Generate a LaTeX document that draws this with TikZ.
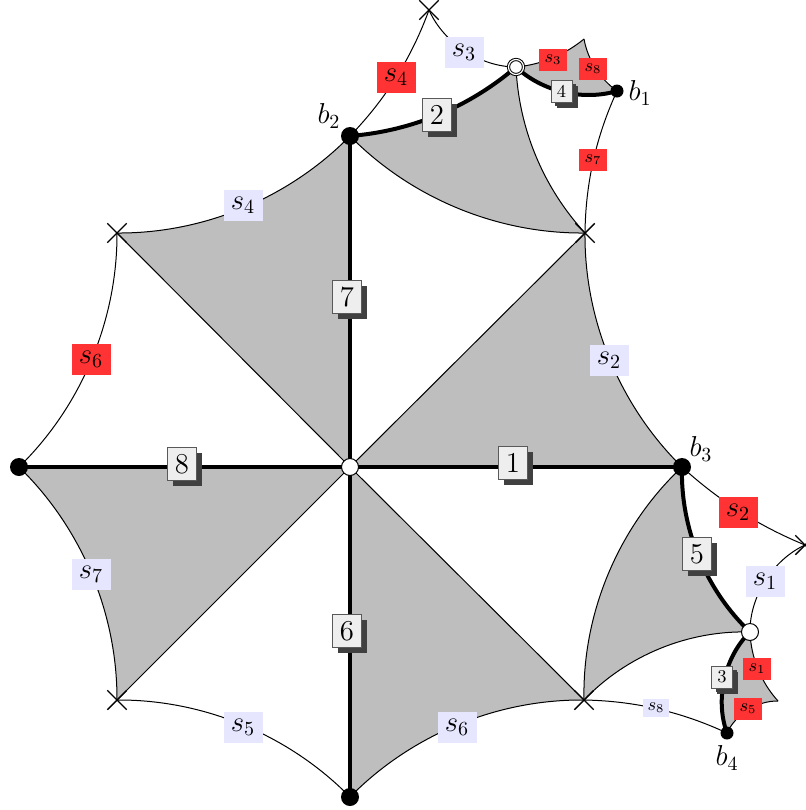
\documentclass[tikz,border=0pt]{standalone}
\usetikzlibrary{positioning,shapes.misc,shadows}
\definecolor{regionfill}{RGB}{190,190,190}
\definecolor{sidered}{RGB}{255,51,51}
\definecolor{sideblue}{RGB}{230,230,255}
\definecolor{numfill}{RGB}{238,238,238}
\definecolor{numshadow}{RGB}{64,64,64}

\begin{document}
\begin{tikzpicture}[
  x=0.5pt, y=-0.5pt,
  region/.style={fill=regionfill},
  side/.style={line width=0.5pt},
  cut/.style={line width=2pt},
  bl/.style={bend left=#1, looseness=0.88},
  br/.style={bend right=#1, looseness=0.88},
  bigpt/.style={circle, fill=black, inner sep=0pt, minimum size=9pt},
  smallpt/.style={circle, fill=black, inner sep=0pt, minimum size=6.5pt},
  whitept/.style={circle, draw, fill=white, line width=0.5pt, inner sep=0pt, minimum size=8.5pt},
  cusp/.style={cross out, draw, line width=0.7pt, inner sep=0pt, minimum size=9pt},
  numbox/.style={
    draw=black!65, fill=numfill, line width=0.4pt, inner sep=0pt,
    minimum width=14.5pt, minimum height=16.5pt, font=\Large,
    drop shadow={opacity=1, fill=numshadow, shadow xshift=2.8pt, shadow yshift=-2.8pt}
  },
  numsmall/.style={
    numbox, minimum width=10.5pt, minimum height=11pt, font=\small,
    drop shadow={opacity=1, fill=numshadow, shadow xshift=2pt, shadow yshift=-2pt}
  },
  blue/.style={fill=sideblue, inner sep=0pt, minimum width=19.5pt, minimum height=15.5pt, font=\Large},
  red/.style={fill=sidered, inner sep=0pt, minimum width=19.5pt, minimum height=15.5pt, font=\Large},
  bluesmall/.style={blue, minimum width=13pt, minimum height=9pt, font=\small},
  redsmall/.style={red, minimum width=14pt, minimum height=11pt, font=\small},
  blbl/.style={font=\Large}
]
\useasboundingbox (0,0) rectangle (806,810);

% ========== Vertices ==========
\coordinate (ctr) at (350,467);
\coordinate (b3) at (682,467);
\coordinate (b2) at (350,136);
\coordinate (lft) at (19,467);
\coordinate (bot) at (350,797);
\coordinate (c-ne) at (585,233);
\coordinate (c-nw) at (117,233);
\coordinate (c-sw) at (117,700);
\coordinate (c-se) at (584,700);
\coordinate (c-top) at (429,10);
\coordinate (c-rgt) at (805,545);
\coordinate (w-top) at (516,67);
\coordinate (w-rgt) at (750,632);
\coordinate (b1) at (617,91);
\coordinate (b4) at (727,733);
\coordinate (tip-top) at (584,39);
\coordinate (tip-rgt) at (778,701);

% ========== Shaded regions ==========
\fill[region] (ctr) -- (b3) to[bl=23] (c-ne) -- cycle;
\fill[region] (ctr) -- (b2) to[bl=23] (c-nw) -- cycle;
\fill[region] (ctr) -- (lft) to[bl=23] (c-sw) -- cycle;
\fill[region] (ctr) -- (bot) to[bl=23] (c-se) -- cycle;
\fill[region] (c-ne) to[bl=20] (w-top) to[bl=18] (b2) to[br=23] (c-ne);
\fill[region] (c-se) to[bl=24] (w-rgt) to[bl=24] (b3) to[br=24] (c-se);
\fill[region] (b1) to[bl=22] (tip-top) to[bl=17] (w-top) to[br=30] (b1);
\fill[region] (b4) to[bl=33] (tip-rgt) to[bl=20] (w-rgt) to[br=33] (b4);

% ========== Thin sides ==========
\draw[side] (ctr) -- (c-ne);
\draw[side] (ctr) -- (c-nw);
\draw[side] (ctr) -- (c-sw);
\draw[side] (ctr) -- (c-se);
\draw[side] (b3) to[bl=23] (c-ne);
\draw[side] (b2) to[bl=23] (c-nw);
\draw[side] (c-nw) to[bl=23] (lft);
\draw[side] (lft) to[bl=23] (c-sw);
\draw[side] (c-sw) to[bl=23] (bot);
\draw[side] (bot) to[bl=23] (c-se);
\draw[side] (c-ne) to[bl=23] (b2);
\draw[side] (c-ne) to[bl=20] (w-top);
\draw[side] (c-ne) to[bl=12] (b1);
\draw[side] (c-top) to[bl=12] (b2);
\draw[side] (w-top) to[bl=33] (c-top);
\draw[side] (b1) to[bl=22] (tip-top);
\draw[side] (tip-top) to[bl=17] (w-top);
\draw[side] (c-se) to[bl=24] (b3);
\draw[side] (c-se) to[bl=24] (w-rgt);
\draw[side] (c-se) to[bl=12] (b4);
\draw[side] (c-rgt) to[bl=10] (b3);
\draw[side] (w-rgt) to[bl=33] (c-rgt);
\draw[side] (b4) to[bl=33] (tip-rgt);
\draw[side] (tip-rgt) to[bl=20] (w-rgt);

% ========== Thick cuts ==========
\draw[cut] (ctr) -- (b3);
\draw[cut] (ctr) -- (b2);
\draw[cut] (ctr) -- (lft);
\draw[cut] (ctr) -- (bot);
\draw[cut] (w-top) to[bl=18] (b2);
\draw[cut] (b1) to[bl=30] (w-top);
\draw[cut] (w-rgt) to[bl=24] (b3);
\draw[cut] (b4) to[bl=33] (w-rgt);

% ========== Markers ==========
\node[whitept] (ctr-pt) at (ctr) {};
\node[bigpt] (b3-pt) at (b3) {};
\node[bigpt] (b2-pt) at (b2) {};
\node[bigpt] (lft-pt) at (lft) {};
\node[bigpt] (bot-pt) at (bot) {};
\node[smallpt] (b1-pt) at (b1) {};
\node[smallpt] (b4-pt) at (b4) {};
\node[whitept, double, double distance=0.6pt, minimum size=7.5pt] (w-top-pt) at (w-top) {};
\node[whitept] (w-rgt-pt) at (w-rgt) {};
\node[cusp] (c-ne-x) at (c-ne) {};
\node[cusp] (c-nw-x) at (c-nw) {};
\node[cusp] (c-sw-x) at (c-sw) {};
\node[cusp] (c-se-x) at (c-se) {};
\node[cusp] (c-top-x) at (c-top) {};
\node[cusp] (c-rgt-x) at (c-rgt) {};

% ========== Point labels ==========
\node[blbl] (b2-lbl) at (329,116) {$b_2$};
\node[blbl] (b1-lbl) at (640,93) {$b_1$};
\node[blbl] (b3-lbl) at (701,449) {$b_3$};
\node[blbl] (b4-lbl) at (727,758) {$b_4$};

% ========== Number boxes ==========
\node[numbox] (n1) at (513,463) {1};
\node[numbox] (n2) at (437,115) {2};
\node[numsmall] (n3) at (722,677) {3};
\node[numsmall] (n4) at (561.5,91) {4};
\node[numbox] (n5) at (697,554) {5};
\node[numbox] (n6) at (347,631) {6};
\node[numbox] (n7) at (347,297) {7};
\node[numbox] (n8) at (182,464) {8};

% ========== Side labels ==========
\node[blue] (s4-a) at (243,205) {$s_4$};
\node[red] (s6-a) at (91,359) {$s_6$};
\node[blue] (s7-a) at (91,574) {$s_7$};
\node[blue] (s5-a) at (243,727) {$s_5$};
\node[blue] (s6-b) at (457,727) {$s_6$};
\node[blue] (s2-a) at (609,360) {$s_2$};
\node[red] (s2-b) at (738,512) {$s_2$};
\node[blue] (s1-a) at (765,581) {$s_1$};
\node[blue] (s3-a) at (464,52) {$s_3$};
\node[red] (s4-b) at (396,77) {$s_4$};
\node[bluesmall] (s8-a) at (656,708) {$s_8$};
\node[redsmall] (s7-b) at (593,160) {$s_7$};
\node[redsmall] (s3-b) at (553,60) {$s_3$};
\node[redsmall] (s8-b) at (593,69) {$s_8$};
\node[redsmall] (s1-b) at (757,669) {$s_1$};
\node[redsmall] (s5-b) at (748,709) {$s_5$};

\end{tikzpicture}
\end{document}
